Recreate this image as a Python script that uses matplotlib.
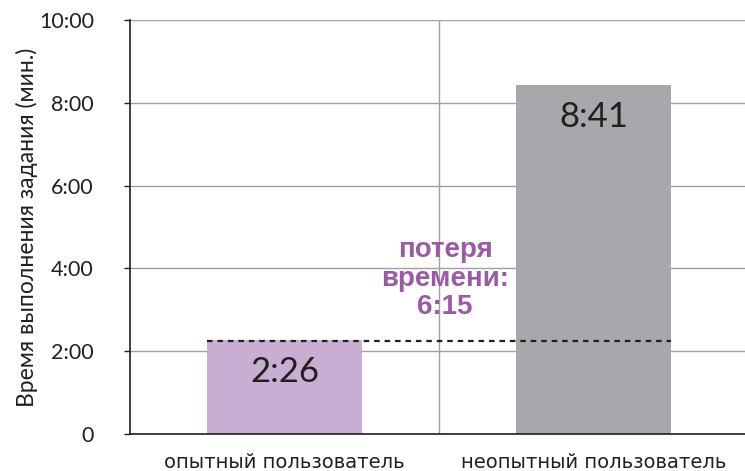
import matplotlib as mpl
import matplotlib.pyplot as plt
import matplotlib.ticker as ticker

mpl.rcParams['font.family'] = ['Lato', 'Noto Sans', 'DejaVu Sans']

# data (minutes)
categories = ['опытный пользователь', 'неопытный пользователь']
bar_values = [2.27, 8.43]          # bar heights as drawn
bar_labels = ['2:26', '8:41']
loss_level = 2.25                  # dashed reference line
loss_text = 'потеря\nвремени:\n6:15'
y_ticks = [0, 2, 4, 6, 8, 10]
y_tick_labels = ['0', '2:00', '4:00', '6:00', '8:00', '10:00']

bar_colors = ['#c9aed3', '#a7a8ab']
purple = '#9b5aa6'
ink = '#231f20'

fig = plt.figure(figsize=(7.45, 4.71), dpi=100)
ax = fig.add_axes([130 / 745, 37 / 471, 615 / 745, 414 / 471])

x = list(range(len(categories)))
ax.bar(x, bar_values, width=0.5, color=bar_colors, zorder=2)

for xi, v, lab in zip(x, bar_values, bar_labels):
    ax.text(xi, v - 0.38, lab, ha='center', va='top', fontsize=25,
            color=ink, zorder=3)

# dashed line spanning both bars
ax.plot([x[0] - 0.25, x[1] + 0.25], [loss_level, loss_level], color=ink,
        linewidth=1.6, dashes=(2.5, 2.2), zorder=4)

ax.text(0.52, 3.75, loss_text, ha='center', va='center', fontsize=20,
        fontweight='bold', color=purple, linespacing=1.12,
        family=['Liberation Sans Narrow', 'Liberation Sans', 'DejaVu Sans'], zorder=5)

ax.set_xlim(-0.5, 1.49)
ax.set_ylim(0, 10)
ax.set_yticks(y_ticks)
ax.set_yticklabels(y_tick_labels)
ax.set_xticks(x)
ax.set_xticklabels(categories, family=['DejaVu Sans'])

# grid: horizontal at each tick, one vertical divider
ax.yaxis.grid(True, color='#a0a0a0', linewidth=1.0, zorder=0)
ax.axvline(0.5, color='#a0a0a0', linewidth=1.0, zorder=0)
ax.set_axisbelow(True)

ax.tick_params(axis='y', length=4, width=1, pad=22, labelsize=15.5, colors=ink)
ax.tick_params(axis='x', length=0, pad=14, labelsize=14, colors=ink)
ax.set_ylabel('Время выполнения задания (мин.)', fontsize=16.5, color=ink)
ax.yaxis.set_label_coords(-0.15, 0.5)

for s in ['top', 'right']:
    ax.spines[s].set_visible(False)
ax.spines['left'].set_color(ink)
ax.spines['bottom'].set_color(ink)
ax.spines['left'].set_linewidth(1.2)
ax.spines['bottom'].set_linewidth(1.2)

fig.savefig('out.png', dpi=100)
